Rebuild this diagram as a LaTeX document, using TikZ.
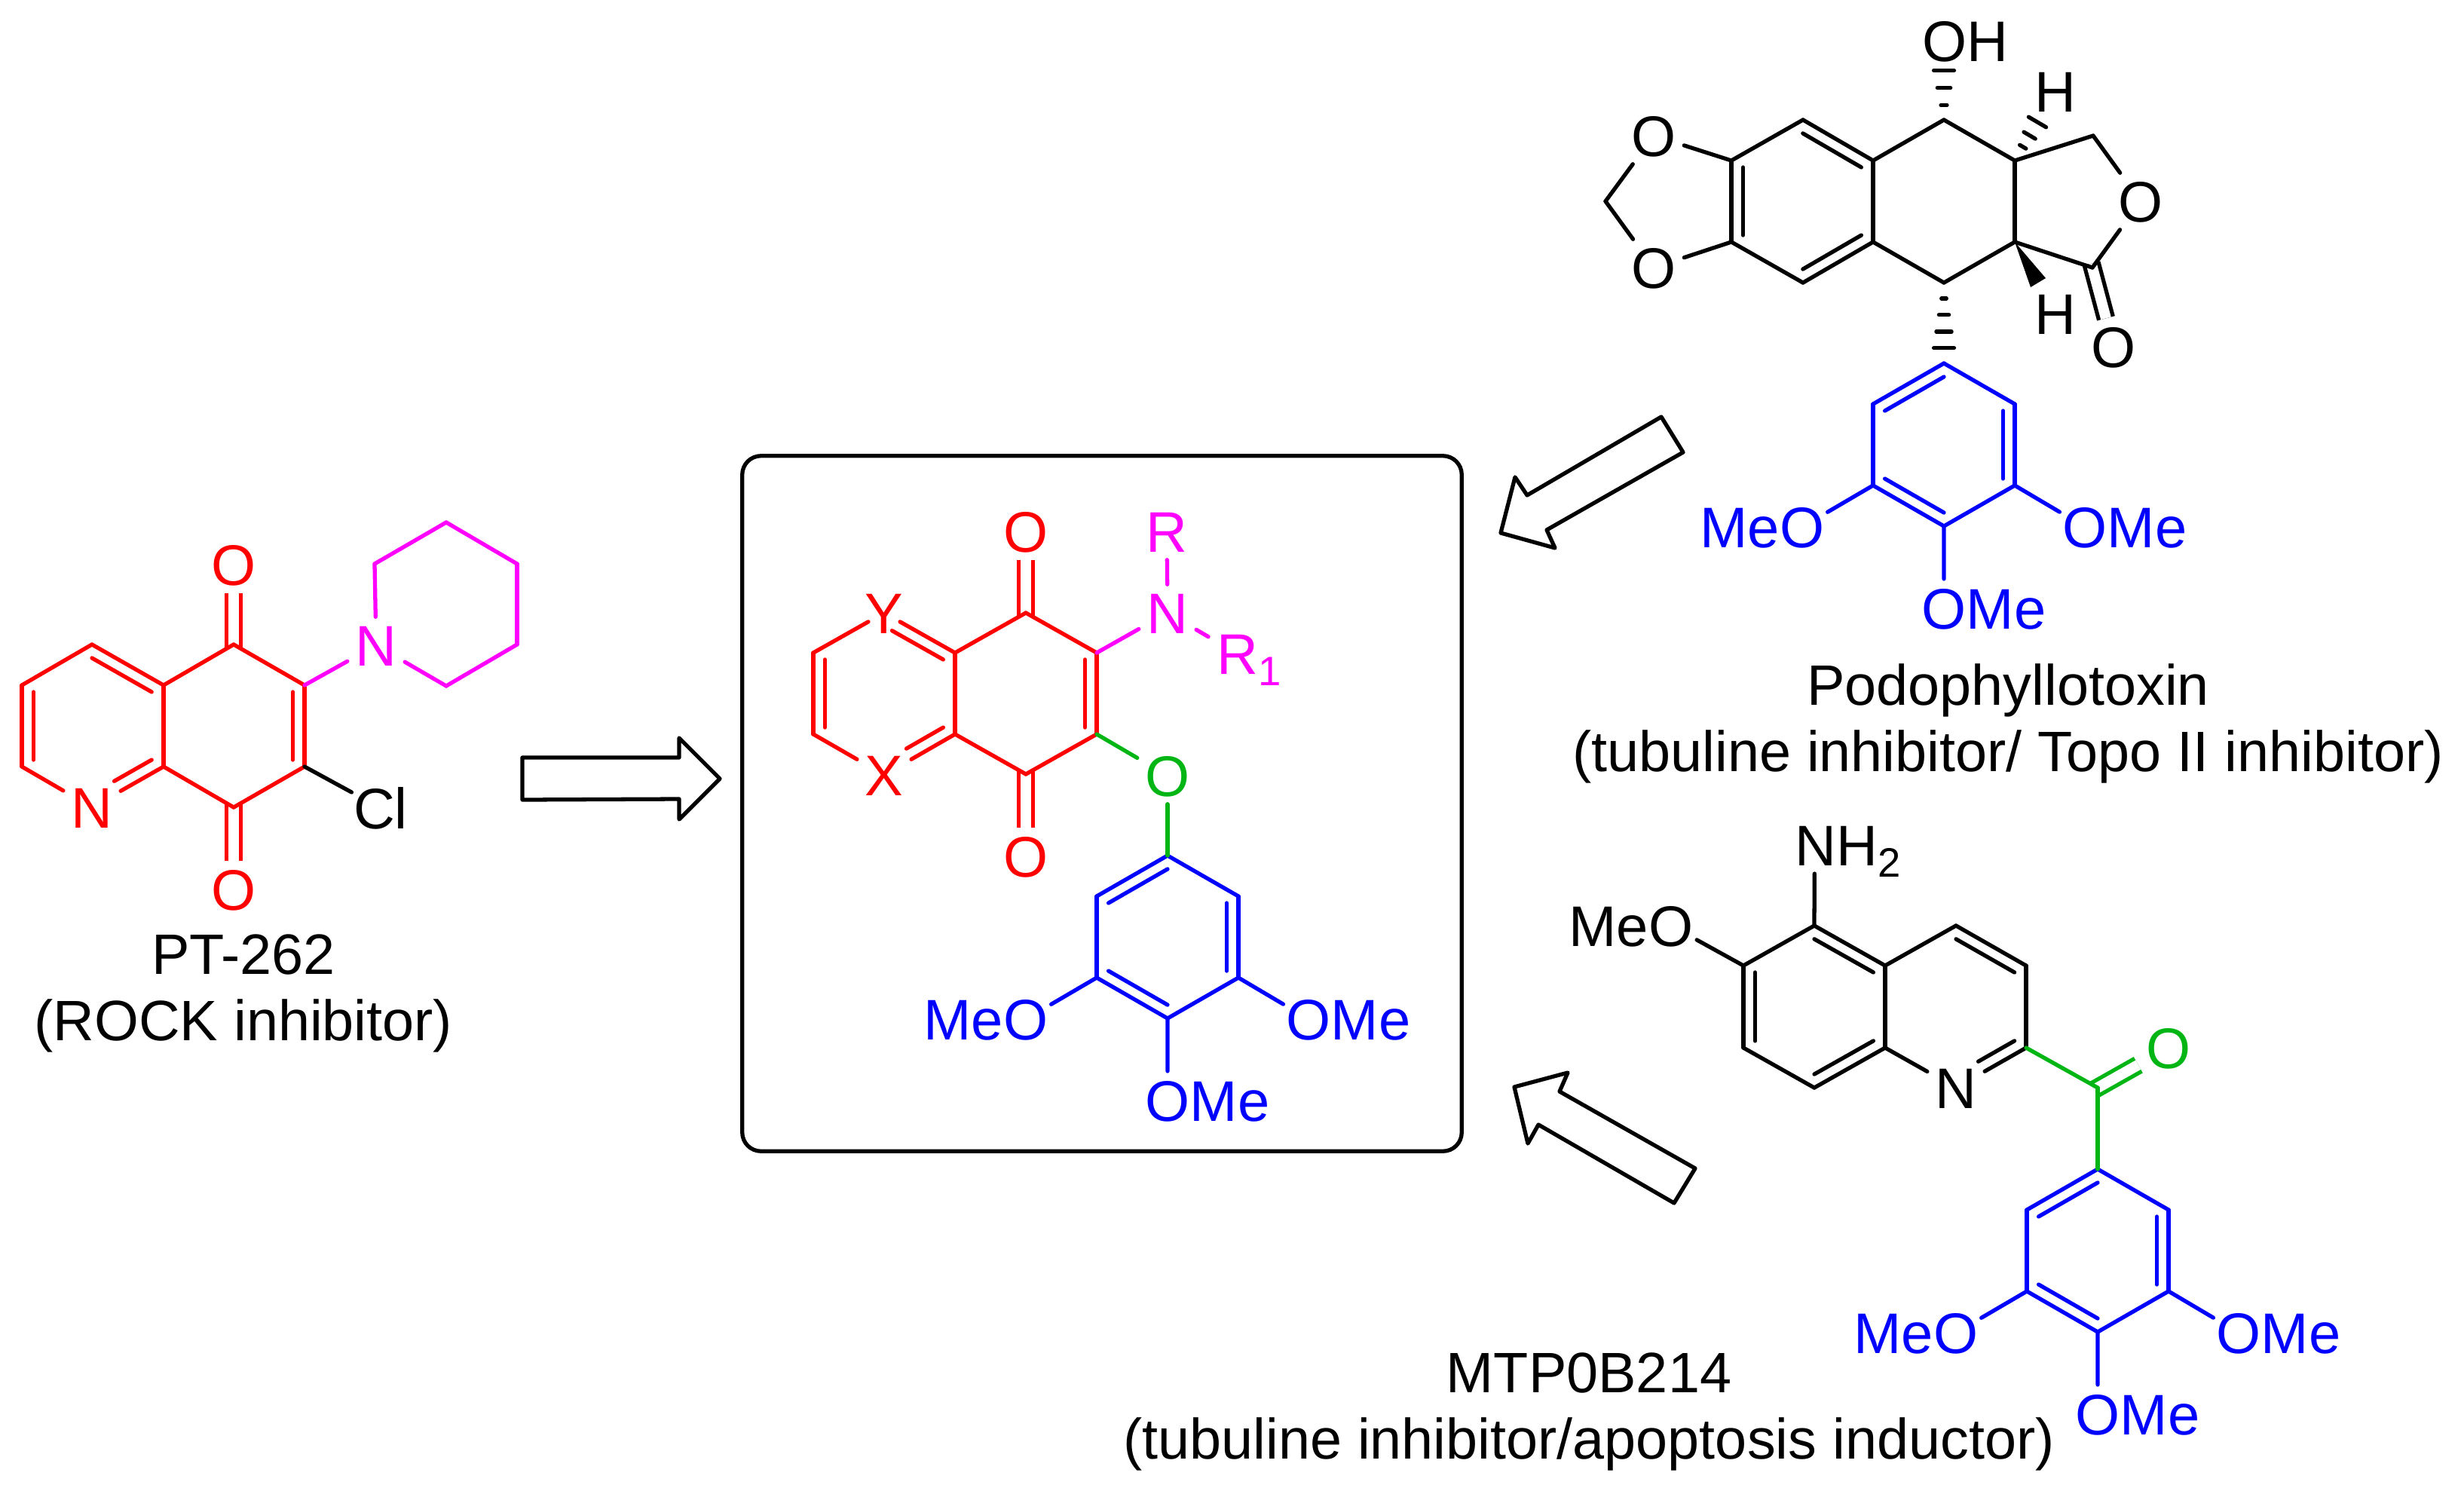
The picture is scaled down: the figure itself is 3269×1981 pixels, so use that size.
\documentclass[tikz,border=0pt]{standalone}
\usepackage{fontspec}
\setmainfont{Liberation Sans}
\usetikzlibrary{calc,positioning}
\definecolor{chemgreen}{RGB}{0,181,20}
\definecolor{chempink}{RGB}{255,0,255}
\definecolor{chemred}{RGB}{255,0,0}
\definecolor{chemblue}{RGB}{0,0,255}
\tikzset{
bond/.style={draw,line width=1.5pt,line cap=round},
dbond/.style={draw,line width=1.5pt,double=white,double distance=.14cm,line cap=butt,shorten <=-.055cm},
hashline/.style={draw,line width=1.5pt,line cap=round},
tolabel/.style={bond,shorten >=.39cm},
atom/.style={font=\fontsize{21.6}{25}\selectfont,inner sep=.1cm,text height=.54cm,text depth=0cm},
tag/.style={atom,inner sep=0pt},
caption/.style={font=\fontsize{21.5}{25}\selectfont,align=center,inner sep=0pt},
openarrow/.style={draw,line width=1.5pt,line join=round},
aryl/.pic={
  \coordinate (-top) at (0,0);
  \coordinate (-ur) at (94,54);
  \coordinate (-lr) at (94,162);
  \coordinate (-bot) at (0,216);
  \coordinate (-ll) at (-94,162);
  \coordinate (-ul) at (-94,54);
  \coordinate (-mid) at (0,108);
  \node[tag,anchor=east] (-meo) at (-158,217) {MeO};
  \node[tag,anchor=west] (-ome) at (157,217) {OMe};
  \node[tag,anchor=west] (-omb) at (-30,325) {OMe};
  \path[bond]
  (-top) edge (-ur) (-ur) edge (-lr) (-lr) edge (-bot)
  (-bot) edge (-ll) (-ll) edge (-ul) (-ul) edge (-top);
  \inbond{-top}{-ul}{-mid}
  \inbond{-ur}{-lr}{-mid}
  \inbond{-ll}{-bot}{-mid}
  \draw[tolabel] (-ll) -- ([xshift=-.3cm]-meo.east);
  \draw[tolabel] (-lr) -- ([xshift=.3cm]-ome.west);
  \draw[tolabel] (-bot) -- ([xshift=.3cm]-omb.west);
}
}
\newcommand{\inbond}[4][0cm]{\draw[bond,shorten >=#1] ($(#2)!.166!(#4)$) -- ($(#3)!.166!(#4)$);}
\newcommand{\hashbond}[3]{\foreach \f in {#3}{\pgfmathsetmacro{\w}{\f*0.166}
  \draw[hashline] ($(#1)!\f!(#2)!\w cm!90:(#2)$) -- ($(#1)!\f!(#2)!\w cm!-90:(#2)$);}}
\newcommand{\lowidx}[1]{\raisebox{-.15cm}{\fontsize{15.5}{15}\selectfont #1}}
\begin{document}
\begin{tikzpicture}[x=.01cm,y=-.01cm]
\useasboundingbox (0,0) rectangle (3269,1981);

\begin{scope}[chemred]
\node[atom] (ptN) at (122,1071) {N};
\node[atom] (ptOa) at (310,749) {O};
\node[atom] (ptOb) at (310,1180) {O};
\coordinate (pt1) at (310,855);
\coordinate (pt2) at (122,855);
\coordinate (pt3) at (29,909);
\coordinate (pt4) at (29,1017);
\coordinate (pt5) at (217,1017);
\coordinate (pt6) at (217,909);
\coordinate (pt7) at (404,909);
\coordinate (pt8) at (404,1017);
\coordinate (pt9) at (310,1071);
\coordinate (ptL) at (122,963);
\coordinate (ptR) at (310,963);
\draw[dbond] (pt1) -- (ptOa);
\draw[dbond] (pt9) -- (ptOb);
\path[bond]
(pt1) edge (pt6) (pt6) edge (pt2) (pt2) edge (pt3) (pt3) edge (pt4)
(pt4) edge (ptN) (ptN) edge (pt5) (pt5) edge (pt6) (pt5) edge (pt9)
(pt9) edge (pt8) (pt8) edge (pt7) (pt7) edge (pt1);
\inbond{pt2}{pt6}{ptL}
\inbond{pt3}{pt4}{ptL}
\inbond[.34cm]{pt5}{ptN}{ptL}
\inbond{pt7}{pt8}{ptR}
\end{scope}
\begin{scope}[chempink]
\node[atom] (pipN) at (499,856) {N};
\coordinate (pip1) at (497,748);
\coordinate (pip2) at (592,693);
\coordinate (pip3) at (686,748);
\coordinate (pip4) at (686,855);
\coordinate (pip5) at (592,910);
\path[bond]
(pt7) edge (pipN) (pipN) edge (pip1) (pip1) edge (pip2) (pip2) edge (pip3)
(pip3) edge (pip4) (pip4) edge (pip5) (pip5) edge (pipN);
\end{scope}
\node[atom,inner sep=.02cm] (ptCl) at (505,1072) {Cl};
\path[bond] (pt8) edge (ptCl);
\node[caption] (ptName) at (323,1318) {PT-262\\(ROCK inhibitor)};
\draw[openarrow] (693,1005) -- (901,1005) -- (901,979) -- (955,1033) -- (901,1087) -- (901,1060) -- (693,1061) -- cycle;

\node[draw,line width=1.5pt,rounded corners=.25cm,minimum width=9.54cm,minimum height=9.22cm] (frame) at (1462,1066) {};
\begin{scope}[chemred]
\node[atom,inner sep=-.05cm] (coY) at (1173,813) {Y};
\node[atom] (coX) at (1173,1028) {X};
\node[atom] (coOa) at (1361,705) {O};
\node[atom] (coOb) at (1361,1136) {O};
\coordinate (co1) at (1361,813);
\coordinate (co2) at (1455,866);
\coordinate (co3) at (1455,974);
\coordinate (co4) at (1361,1027);
\coordinate (co5) at (1267,974);
\coordinate (co6) at (1267,866);
\coordinate (co7) at (1079,866);
\coordinate (co8) at (1079,974);
\coordinate (coL) at (1173,920);
\coordinate (coR) at (1361,920);
\draw[dbond] (co1) -- (coOa);
\draw[dbond] (co4) -- (coOb);
\path[bond]
(co1) edge (co6) (co6) edge (coY) (coY) edge (co7) (co7) edge (co8)
(co8) edge (coX) (coX) edge (co5) (co5) edge (co6) (co5) edge (co4)
(co4) edge (co3) (co3) edge (co2) (co2) edge (co1);
\inbond[.12cm]{co6}{coY}{coL}
\inbond{co7}{co8}{coL}
\inbond[.34cm]{co5}{coX}{coL}
\inbond{co2}{co3}{coR}
\end{scope}
\begin{scope}[chempink]
\node[atom] (coN) at (1549,813) {N};
\node[atom] (coRa) at (1548,705) {R};
\node[tag,anchor=west] (coRb) at (1614,867) {R\lowidx{1}};
\path[bond] (co2) edge (coN) (coN) edge (coRa);
\draw[bond,shorten >=.44cm] (coN) -- ([xshift=.27cm]coRb.west);
\end{scope}
\pic[chemblue] (arC) at (1549,1135) {aryl};
\begin{scope}[chemgreen]
\node[atom] (coO) at (1549,1029) {O};
\path[bond] (co3) edge (coO) (coO) edge (arC-top);
\end{scope}

\node[atom] (poOa) at (2194,180) {O};
\node[atom] (poOb) at (2194,355) {O};
\node[atom] (poOc) at (2840,267) {O};
\node[atom] (poOd) at (2804,460) {O};
\node[tag,anchor=west] (poOH) at (2550,54) {OH};
\node[atom] (poHa) at (2727,121) {H};
\node[atom] (poHb) at (2727,416) {H};
\coordinate (po1) at (2579,159);
\coordinate (po2) at (2673,213);
\coordinate (po3) at (2673,321);
\coordinate (po4) at (2579,375);
\coordinate (po5) at (2485,321);
\coordinate (po6) at (2485,213);
\coordinate (po7) at (2392,159);
\coordinate (po8) at (2297,213);
\coordinate (po9) at (2297,321);
\coordinate (po10) at (2392,375);
\coordinate (po11) at (2130,267);
\coordinate (po12) at (2777,180);
\coordinate (po13) at (2776,355);
\coordinate (poL) at (2391,267);
\coordinate (poHashA) at (2579,78);
\coordinate (poHashB) at (2710,150);
\coordinate (poWa) at (2714,369);
\coordinate (poWb) at (2694,381);
\draw[dbond] (po13) -- (poOd);
\path[bond]
(po1) edge (po2) (po2) edge (po3) (po3) edge (po4) (po4) edge (po5)
(po5) edge (po6) (po6) edge (po1) (po6) edge (po7) (po7) edge (po8)
(po8) edge (po9) (po9) edge (po10) (po10) edge (po5)
(po8) edge (poOa) (poOa) edge (po11) (po11) edge (poOb) (poOb) edge (po9)
(po2) edge (po12) (po12) edge (poOc) (poOc) edge (po13) (po13) edge (po3);
\inbond{po7}{po6}{poL}
\inbond{po8}{po9}{poL}
\inbond{po10}{po5}{poL}
\fill (po3) -- (poWa) -- (poWb) -- cycle;
\hashbond{po1}{poHashA}{.24,.525,.81}
\hashbond{po2}{poHashB}{.29,.53,.81}
\pic[chemblue] (arD) at (2579,482) {aryl};
\hashbond{po4}{arD-top}{.196,.40,.607,.81}
\node[caption] (poName) at (2664,960) {Podophyllotoxin\\(tubuline inhibitor/ Topo II inhibitor)};
\draw[openarrow] (2204,553) -- (2233,600) -- (2052,703) -- (2063,727) -- (1991,707) -- (2010,633) -- (2026,657) -- cycle;

\node[atom] (mtN) at (2595,1443) {N};
\node[tag,anchor=west] (mtNH) at (2381,1121) {NH\lowidx{2}};
\node[tag,anchor=east] (mtMeO) at (2247,1228) {MeO};
\coordinate (mt1) at (2407,1228);
\coordinate (mt2) at (2501,1281);
\coordinate (mt3) at (2501,1390);
\coordinate (mt4) at (2407,1443);
\coordinate (mt5) at (2313,1390);
\coordinate (mt6) at (2313,1281);
\coordinate (mt7) at (2595,1228);
\coordinate (mt8) at (2688,1281);
\coordinate (mt9) at (2688,1390);
\coordinate (mtL) at (2407,1335);
\coordinate (mtR) at (2595,1335);
\path[bond]
(mt1) edge (mt2) (mt2) edge (mt3) (mt3) edge (mt4) (mt4) edge (mt5)
(mt5) edge (mt6) (mt6) edge (mt1) (mt2) edge (mt7) (mt7) edge (mt8)
(mt8) edge (mt9) (mt9) edge (mtN) (mtN) edge (mt3);
\inbond{mt1}{mt2}{mtL}
\inbond{mt6}{mt5}{mtL}
\inbond{mt4}{mt3}{mtL}
\inbond{mt7}{mt8}{mtR}
\inbond[.34cm]{mt9}{mtN}{mtR}
\draw[bond,shorten >=.38cm] (mt1) -- ([xshift=.265cm]mtNH.west);
\draw[tolabel] (mt6) -- ([xshift=-.3cm]mtMeO.east);
\pic[chemblue] (arM) at (2783,1551) {aryl};
\begin{scope}[chemgreen]
\node[atom] (mtO) at (2877,1390) {O};
\coordinate (mt10) at (2783,1443);
\draw[dbond] (mt10) -- (mtO);
\path[bond] (mt9) edge (mt10) (mt10) edge (arM-top);
\end{scope}
\node[caption] (mtName) at (2108,1873) {MTP0B214\\(tubuline inhibitor/apoptosis inductor)};
\draw[openarrow] (2080,1423) -- (2009,1442) -- (2027,1517) -- (2041,1492) -- (2221,1596) -- (2249,1550) -- (2069,1448) -- cycle;
\end{tikzpicture}
\end{document}
